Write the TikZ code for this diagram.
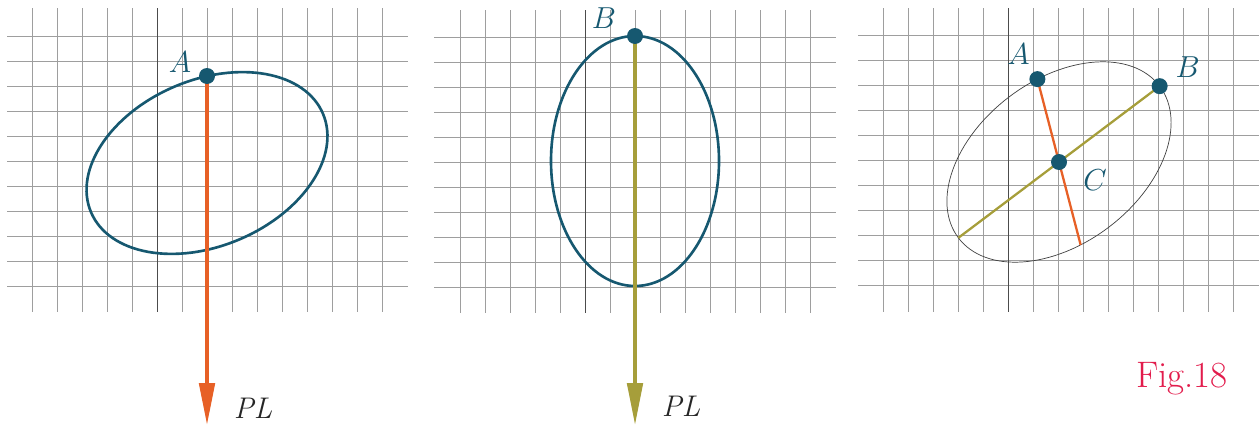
\documentclass[tikz,border=0pt]{standalone}
\usepackage{amsmath}
\usepackage{tikz}
\usetikzlibrary{arrows.meta}

\definecolor{dotteal}{RGB}{22,88,112}
\definecolor{plred}{RGB}{231,96,38}
\definecolor{plolive}{RGB}{166,158,58}
\definecolor{figred}{RGB}{226,28,76}

\tikzset{
  gridline/.style={black!38, line width=0.5pt},
  gridaxis/.style={black!70, line width=0.5pt},
  curve/.style={dotteal, line width=1.5pt},
  thincurve/.style={black!75, line width=0.4pt},
  pline/.style={line width=2.8pt, -{Triangle[length=0.86cm, width=0.3cm]}},
  dline/.style={line width=1.3pt},
  pt/.style={circle, fill=dotteal, inner sep=0pt, minimum size=0.32cm},
  lbl/.style={text=dotteal, font=\fontsize{17}{19}\selectfont},
  pllbl/.style={text=black!85, font=\fontsize{17}{19}\selectfont\itshape},
  figlbl/.style={text=figred, font=\fontsize{21}{23}\selectfont}
}

\begin{document}
\begin{tikzpicture}[x=0.02cm, y=0.02cm]
  \useasboundingbox (0,0) rectangle (1260,427);

  % squared paper, one sheet per view
  \foreach \k in {0,...,14} {
    \draw[gridline] (32+25*\k,419) -- (32+25*\k,115);
    \draw[gridline] (460+25*\k,417) -- (460+25*\k,114);
    \draw[gridline] (883+25*\k,419) -- (883+25*\k,115);
  }
  \foreach \k in {0,...,10} {
    \draw[gridline] (7,391-25*\k) -- (408,391-25*\k);
    \draw[gridline] (434,390-25*\k) -- (836,390-25*\k);
    \draw[gridline] (858,392-25*\k) -- (1259,392-25*\k);
  }
  \draw[gridaxis] (157,419) -- (157,115);
  \draw[gridaxis] (585,417) -- (585,114);
  \draw[gridaxis] (1008,419) -- (1008,115);

  % view 1
  \begin{scope}[shift={(207,264)}, rotate=23]
    \draw[curve] (0,0) ellipse [x radius=126, y radius=83];
  \end{scope}
  \coordinate (a1) at (207,351);
  \coordinate (t1) at (207,1);
  \draw[pline, plred] (a1) -- (t1);
  \node[pt] (A1) at (a1) {};
  \node[lbl] (la1) at ([shift={(-27,14)}]A1) {$A$};
  \node[pllbl] (pl1) at ([shift={(46,18)}]t1) {PL};

  % view 2
  \draw[curve] (635,266) ellipse [x radius=84, y radius=125];
  \coordinate (b2) at (635,391);
  \coordinate (t2) at (635,1);
  \draw[pline, plolive] (b2) -- (t2);
  \node[pt] (B2) at (b2) {};
  \node[lbl] (lb2) at ([shift={(-31,18)}]B2) {$B$};
  \node[pllbl] (pl2) at ([shift={(46,20)}]t2) {PL};

  % view 3
  \begin{scope}[shift={(1059,265)}, rotate=37]
    \draw[thincurve] (0,0) ellipse [x radius=126, y radius=82];
    \coordinate (c3) at (0,0);
    \coordinate (a3) at (75:126 and 82);
    \coordinate (a3e) at (255:126 and 82);
    \coordinate (b3) at (0:126 and 82);
    \coordinate (b3e) at (180:126 and 82);
  \end{scope}
  \draw[dline, plolive] (b3e) -- (b3);
  \draw[dline, plred] (a3) -- (a3e);
  \node[pt] (A3) at (a3) {};
  \node[pt] (B3) at (b3) {};
  \node[pt] (C3) at (c3) {};
  \node[lbl] (la3) at ([shift={(-19,25)}]A3) {$A$};
  \node[lbl] (lb3) at ([shift={(28,19)}]B3) {$B$};
  \node[lbl] (lc3) at ([shift={(36,-18)}]C3) {$C$};

  \node[figlbl, anchor=base west] (fig) at (1130,40) {Fig.18};
\end{tikzpicture}
\end{document}
